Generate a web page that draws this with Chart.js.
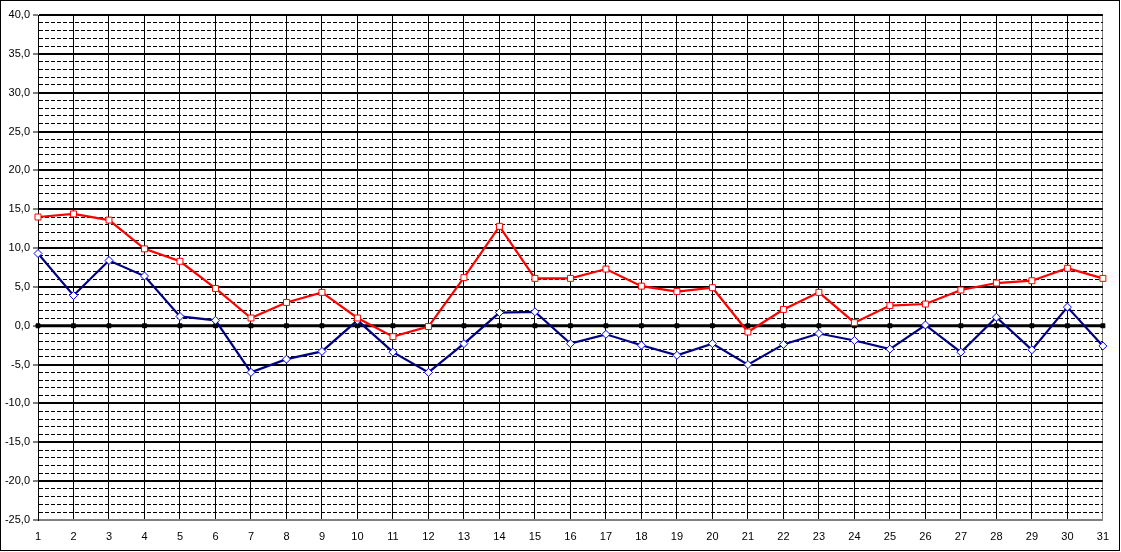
<!DOCTYPE html>
<html lang="en">
<head>
  <meta charset="UTF-8">
  <title>Temperature chart</title>
  <script src="https://cdn.jsdelivr.net/npm/chart.js"></script>
  <style>
    * { box-sizing: border-box; margin: 0; padding: 0; }
    html, body { background: #fff; overflow: hidden; }
    #frame {
      width: 1120px;
      height: 551px;
      border: 1px solid #000;
      background: #fff;
    }
    #chart-container { width: 1118px; height: 549px; }
  </style>
</head>
<body>
  <div id="frame">
    <div id="chart-container">
      <canvas id="tempChart"></canvas>
    </div>
  </div>

  <script>
    // Day of month
    const days = ['1','2','3','4','5','6','7','8','9','10','11','12','13','14','15','16',
                  '17','18','19','20','21','22','23','24','25','26','27','28','29','30','31'];

    // Upper curve (red squares)
    const maxTemp = [14.0, 14.4, 13.6, 9.9, 8.3, 4.8, 1.0, 3.0, 4.3, 1.0,
                     -1.4, -0.1, 6.2, 12.8, 6.1, 6.1, 7.3, 5.1, 4.4, 4.9,
                     -0.8, 2.1, 4.3, 0.4, 2.6, 2.8, 4.6, 5.5, 5.8, 7.4, 6.1];

    // Lower curve (blue diamonds)
    const minTemp = [9.3, 3.9, 8.4, 6.4, 1.2, 0.7, -6.0, -4.3, -3.3, 0.7,
                     -3.4, -6.0, -2.3, 1.7, 1.8, -2.3, -1.1, -2.5, -3.8, -2.3,
                     -5.0, -2.4, -1.0, -1.9, -3.0, 0.1, -3.4, 1.1, -3.1, 2.4, -2.6];

    // Zero reference line (black)
    const zeroLine = [0, 0, 0, 0, 0, 0, 0, 0, 0, 0, 0, 0, 0, 0, 0, 0,
                      0, 0, 0, 0, 0, 0, 0, 0, 0, 0, 0, 0, 0, 0, 0];

    const yMin = -25;
    const yMax = 40;

    const font = { family: "'Liberation Sans', Arial, sans-serif", size: 11 };
    const isMajor = v => Math.abs(v % 5) < 1e-9;

    const ctx = document.getElementById('tempChart').getContext('2d');
    new Chart(ctx, {
      type: 'line',
      data: {
        labels: days,
        datasets: [
          {
            data: maxTemp,
            borderColor: '#ff0000',
            borderWidth: 2.2,
            pointStyle: 'rect',
            pointRadius: 4.2,
            pointBorderWidth: 1,
            pointBorderColor: '#ff0000',
            pointBackgroundColor: '#ffffff',
            tension: 0,
            clip: false
          },
          {
            data: minTemp,
            borderColor: '#000080',
            borderWidth: 2.2,
            pointStyle: 'rectRot',
            pointRadius: 4,
            pointBorderWidth: 1,
            pointBorderColor: '#0000ff',
            pointBackgroundColor: '#ffffff',
            tension: 0,
            clip: false
          },
          {
            data: zeroLine,
            borderColor: '#000000',
            borderWidth: 3,
            pointStyle: 'rect',
            pointRadius: 2.8,
            pointBorderWidth: 1,
            pointBorderColor: '#000000',
            pointBackgroundColor: '#000000',
            tension: 0,
            clip: false
          }
        ]
      },
      options: {
        responsive: true,
        maintainAspectRatio: false,
        animation: false,
        layout: { padding: { top: 14, right: 13, left: 0, bottom: 0 } },
        plugins: {
          legend: { display: false },
          tooltip: { enabled: false }
        },
        scales: {
          x: {
            offset: false,
            grid: {
              color: c => (c.index === days.length - 1 ? '#808080' : '#000000'),
              lineWidth: 1,
              drawTicks: false
            },
            border: { display: false },
            ticks: {
              color: '#000000',
              font: font,
              autoSkip: false,
              maxRotation: 0,
              padding: 10
            },
            afterFit: s => { s.height = 30; }
          },
          y: {
            min: yMin,
            max: yMax,
            grid: {
              color: c => (c.tick && c.tick.value === yMin ? '#808080' : '#000000'),
              lineWidth: c => (c.tick && isMajor(c.tick.value) ? 2 : 1),
              drawTicks: true,
              tickLength: 5,
              tickWidth: 1,
              tickColor: c => (c.tick && isMajor(c.tick.value) ? '#000000' : 'rgba(0,0,0,0)')
            },
            border: {
              display: true,
              color: '#000000',
              width: 1,
              dash: c => (c.tick && !isMajor(c.tick.value) ? [4, 2] : [])
            },
            ticks: {
              stepSize: 1,
              maxTicksLimit: 100,
              autoSkip: false,
              color: '#000000',
              font: font,
              padding: 3,
              callback: v => (isMajor(v) ? v.toFixed(1).replace('.', ',') : '')
            },
            afterFit: s => { s.width = 37; }
          }
        }
      }
    });
  </script>
</body>
</html>
